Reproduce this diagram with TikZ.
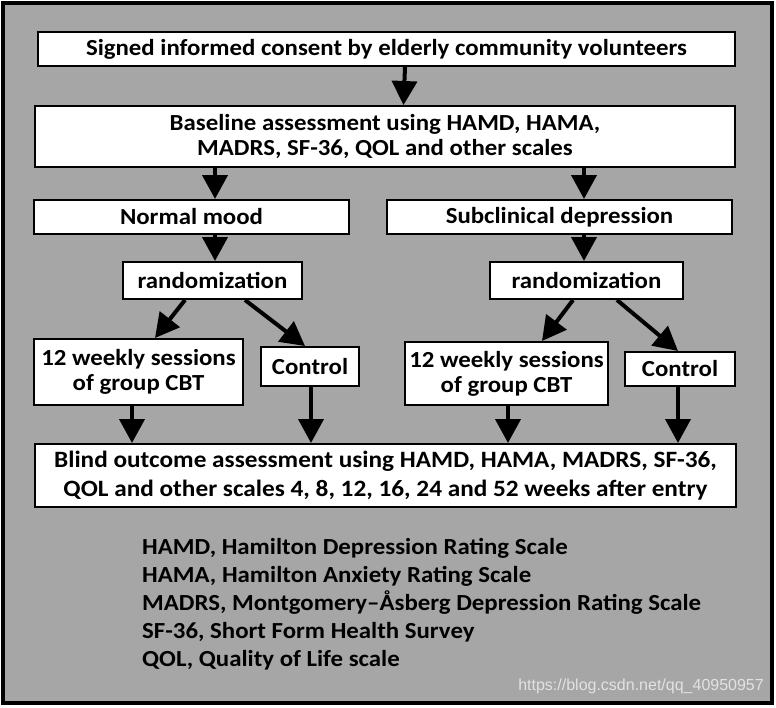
\documentclass[tikz,border=0pt]{standalone}
\usepackage{fontspec}
\setmainfont{Carlito}[FakeStretch=1.08]
\newfontfamily\wmfont{Liberation Sans}
\usetikzlibrary{arrows.meta}
\definecolor{bggray}{HTML}{A6A6A6}
\definecolor{wmgray}{HTML}{E2E2E2}
\tikzset{
  box/.style={draw=black, line width=2pt, fill=white, inner sep=0pt, align=center,
    font=\fontsize{23}{25}\selectfont\bfseries},
  arr/.style={line width=4pt, -{Triangle[width=25pt,length=24pt]}, shorten >=0pt},
}
\begin{document}
\begin{tikzpicture}[x=1pt,y=-1pt]
\useasboundingbox (0,0) rectangle (776,707);
\draw[line width=3.5pt, fill=bggray] (3,3) rectangle (772,703);

\node[box, minimum width=697, minimum height=34] (b1) at (386.5,49) {Signed informed consent by elderly community volunteers};
\node[box, minimum width=700, minimum height=61] (b2) at (385,136.5) {Baseline assessment using HAMD, HAMA,\\MADRS, SF-36, QOL and other scales};
\node[box, minimum width=315, minimum height=34] (nm) at (191.5,217) {Normal mood};
\node[box, minimum width=345, minimum height=34] (sd) at (559.5,217) {Subclinical depression};
\node[box, minimum width=179, minimum height=37] (r1) at (212.5,280.5) {randomization};
\node[box, minimum width=193, minimum height=37] (r2) at (586.5,280.5) {randomization};
\node[box, minimum width=209, minimum height=66] (c1) at (138.5,372) {12 weekly sessions\\of group CBT};
\node[box, minimum width=98, minimum height=39] (k1) at (310,366.5) {Control};
\node[box, minimum width=203, minimum height=63] (c2) at (506.5,373.5) {12 weekly sessions\\of group CBT};
\node[box, minimum width=110, minimum height=34] (k2) at (680,369) {Control};
\node[box, minimum width=701, minimum height=63, font=\fontsize{23.4}{29}\selectfont\bfseries] (bo) at (385.5,475.5) {Blind outcome assessment using HAMD, HAMA, MADRS, SF-36,\\QOL and other scales 4, 8, 12, 16, 24 and 52 weeks after entry};

\draw[arr] ([xshift=18.5]b1.south) -- ([xshift=18.5]b2.north);
\draw[arr] ([xshift=-170]b2.south) -- ([xshift=23.5]nm.north);
\draw[arr] ([xshift=199]b2.south) -- ([xshift=24.5]sd.north);
\draw[arr] ([xshift=23.5]nm.south) -- ([xshift=2.5]r1.north);
\draw[arr] ([xshift=24.5]sd.south) -- ([xshift=-2.5]r2.north);
\draw[arr] ([xshift=-27.5]r1.south) -- ([xshift=16.5]c1.north);
\draw[arr] ([xshift=32.5]r1.south) -- ([xshift=-5]k1.north);
\draw[arr] ([xshift=-13.5]r2.south) -- ([xshift=35.5]c2.north);
\draw[arr] ([xshift=30.5]r2.south) -- ([xshift=-2]k2.north);
\draw[arr] ([xshift=-6.5]c1.south) -- ([xshift=-253.5]bo.north);
\draw[arr] ([xshift=1]k1.south) -- ([xshift=-74.5]bo.north);
\draw[arr] ([xshift=1.5]c2.south) -- ([xshift=122.5]bo.north);
\draw[arr] ([xshift=-2]k2.south) -- ([xshift=292.5]bo.north);

\node[anchor=north west, align=left, inner sep=0pt, font=\fontsize{23}{28}\selectfont\bfseries] (leg) at (142,538) {HAMD, Hamilton Depression Rating Scale\\HAMA, Hamilton Anxiety Rating Scale\\MADRS, Montgomery–Åsberg Depression Rating Scale\\SF-36, Short Form Health Survey\\QOL, Quality of Life scale};

\node[anchor=east, inner sep=0pt, text=wmgray, font=\wmfont\fontsize{16}{18}\selectfont] (wm) at (764,686) {https://blog.csdn.net/qq\_40950957};
\end{tikzpicture}
\end{document}
